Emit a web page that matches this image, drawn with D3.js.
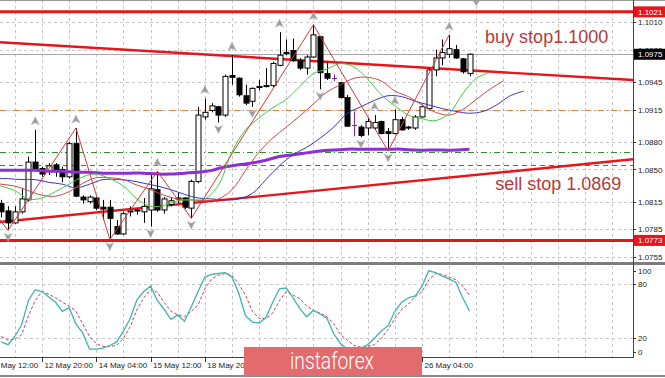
<!DOCTYPE html>
<html>
<head>
<meta charset="utf-8">
<title>EURUSD H4</title>
<script src="https://cdn.jsdelivr.net/npm/d3@7"></script>
<style>
  html, body { margin: 0; padding: 0; background: #ffffff; }
  svg { display: block; font-family: "Liberation Sans", Arial, sans-serif; }
  .grid line { stroke: #c6c6c6; stroke-dasharray: 3,3; shape-rendering: crispEdges; }
  .axis text { font-size: 8px; fill: #1a1a1a; }
  .axis line { stroke: #333; shape-rendering: crispEdges; }
  .axis path { display: none; }
</style>
</head>
<body>
<svg id="chart" width="665" height="378"></svg>
<script>
// bar index 0 = 11 May 12:00 (H4 bars), first visible bar is 2
const firstBar = 2;
const open = [1.0813,1.0805,1.0792,1.0804,1.0817,1.0858,1.0851,1.0848,1.0855,1.0850,
  1.0842,1.0878,1.0820,1.0815,1.0819,1.0809,1.0809,1.0788,1.0780,1.0804,
  1.0805,1.0804,1.0806,1.0828,1.0806,1.0812,1.0818,1.0819,1.0808,1.0837,
  1.0907,1.0914,1.0918,1.0909,1.0952,1.0949,1.0930,1.0924,1.0939,1.0940,
  1.0941,1.0963,1.0976,1.0979,1.0968,1.0960,1.0972,1.0994,1.0954,1.0949,
  1.0944,1.0928,1.0898,1.0896,1.0895,1.0895,1.0902,1.0891,1.0889,1.0904,
  1.0895,1.0895,1.0907,1.0916,1.0958,1.0971,1.0975,1.0980,1.0970,1.0954];
const high = [1.0817,1.0810,1.0810,1.0830,1.0864,1.0893,1.0853,1.0857,1.0857,1.0853,
  1.0880,1.0895,1.0822,1.0822,1.0820,1.0817,1.0817,1.0795,1.0804,1.0810,
  1.0808,1.0819,1.0844,1.0848,1.0820,1.0819,1.0825,1.0820,1.0839,1.0918,
  1.0927,1.0922,1.0919,1.0953,1.0974,1.0950,1.0942,1.0939,1.0947,1.0960,
  1.0967,1.0999,1.0991,1.0992,1.0971,1.0974,1.1007,1.0995,1.0967,1.0953,
  1.0945,1.0931,1.0913,1.0898,1.0906,1.0909,1.0903,1.0895,1.0915,1.0907,
  1.0897,1.0909,1.0920,1.0960,1.0980,1.0991,1.0996,1.0985,1.0971,1.0976];
const low = [1.0798,1.0784,1.0791,1.0802,1.0815,1.0849,1.0842,1.0844,1.0842,1.0836,
  1.0840,1.0820,1.0813,1.0813,1.0806,1.0795,1.0774,1.0779,1.0779,1.0799,
  1.0801,1.0792,1.0788,1.0804,1.0802,1.0810,1.0813,1.0807,1.0797,1.0835,
  1.0904,1.0912,1.0901,1.0907,1.0942,1.0929,1.0920,1.0918,1.0936,1.0939,
  1.0939,1.0962,1.0974,1.0967,1.0958,1.0953,1.0971,1.0937,1.0947,1.0946,
  1.0927,1.0896,1.0886,1.0885,1.0887,1.0893,1.0888,1.0870,1.0888,1.0892,
  1.0893,1.0893,1.0906,1.0915,1.0951,1.0963,1.0971,1.0970,1.0954,1.0951];
const close = [1.0804,1.0792,1.0804,1.0818,1.0858,1.0850,1.0845,1.0854,1.0849,1.0842,
  1.0878,1.0821,1.0817,1.0820,1.0808,1.0807,1.0797,1.0780,1.0802,1.0805,
  1.0806,1.0810,1.0829,1.0806,1.0818,1.0816,1.0819,1.0809,1.0837,1.0909,
  1.0912,1.0919,1.0909,1.0951,1.0950,1.0931,1.0922,1.0938,1.0940,1.0941,
  1.0965,1.0974,1.0977,1.0968,1.0960,1.0972,1.0996,1.0955,1.0949,1.0949,
  1.0928,1.0897,1.0898,1.0887,1.0902,1.0901,1.0889,1.0889,1.0904,1.0893,
  1.0896,1.0907,1.0918,1.0958,1.0971,1.0977,1.0981,1.0971,1.0956,1.0975];

// alligator lines, read every second bar slot (they run past the last bar)
const lipsStart = 0;
const lips = [1.0839,1.0832,1.0827,1.0818,1.0819,1.0826,1.0834,1.0842,1.0845,1.0840,
  1.0832,1.0818,1.0810,1.0811,1.0816,1.0817,1.0818,1.0833,1.0869,1.0893,
  1.0906,1.0917,1.0926,1.0940,1.0954,1.0959,1.0965,1.0961,1.0948,1.0931,
  1.0919,1.0909,1.0905,1.0903,1.0911,1.0932,1.0949,1.0955];
const teethStart = 0;
const teeth = [1.0838,1.0834,1.0832,1.0827,1.0822,1.0821,1.0826,1.0835,1.0841,1.0841,
  1.0839,1.0833,1.0828,1.0822,1.0818,1.0817,1.0816,1.0818,1.0828,1.0849,
  1.0869,1.0884,1.0896,1.0908,1.0921,1.0934,1.0942,1.0949,1.0950,1.0946,
  1.0935,1.0929,1.0920,1.0912,1.0909,1.0915,1.0926,1.0937,1.0946];
const jawStart = 1;
const jaw = [1.0840,1.0840,1.0839,1.0839,1.0836,1.0834,1.0830,1.0834,1.0839,1.0839,
  1.0838,1.0835,1.0832,1.0828,1.0823,1.0819,1.0818,1.0817,1.0818,1.0824,
  1.0839,1.0854,1.0866,1.0874,1.0884,1.0896,1.0911,1.0918,1.0925,1.0930,
  1.0929,1.0924,1.0920,1.0916,1.0913,1.0911,1.0913,1.0920,1.0930,1.0935];
const slowStart = 1;
const slowMA = [1.0849,1.0849,1.0849,1.0849,1.0848,1.0848,1.0847,1.0847,1.0846,1.0846,
  1.0846,1.0846,1.0845,1.0845,1.0846,1.0847,1.0849,1.0853,1.0855,1.0857,
  1.0860,1.0864,1.0866,1.0868,1.0870,1.0871,1.0872,1.0872,1.0872,1.0872,
  1.0872,1.0871,1.0871,1.0871,1.0871,1.0872];

const zigzagBars = [0, 3, 13, 18, 25, 30, 48, 59, 68];
const zigzagPrices = [1.0812, 1.0784, 1.0895, 1.0774, 1.0848, 1.0797, 1.1007, 1.0870, 1.0996];
const fractalUp = [7, 13, 25, 32, 36, 43, 48, 57, 60, 68];
const fractalDown = [3, 18, 24, 30, 34, 39, 49, 55, 59];

const stochMain = [16,13,22,35,62,74,72,66,60,50,54,36,26,8,8,9,12,16,28,42,
  63,72,78,62,52,41,46,39,55,72,88,91,92,93,88,70,45,38,37,43,
  60,75,76,65,53,44,51,47,42,25,14,8,6,9,13,20,28,34,50,60,
  65,67,78,95,93,89,86,82,65,50];
const stochSignal = [22,18,19,24,45,62,72,69,65,60,56,50,36,22,14,11,11,12,20,33,
  52,65,74,71,60,50,46,44,50,57,75,86,90,92,90,80,68,50,42,42,
  48,62,72,68,64,56,51,48,44,36,24,18,12,10,11,13,20,30,42,52,
  58,66,72,85,92,91,88,85,78,68];

const priceTicks = [1.1010, 1.0980, 1.0945, 1.0915, 1.0880, 1.0850, 1.0815, 1.0785, 1.0755];
const stochTicks = [100, 80, 20, 0];
// labels under the logo (20, 21, 22 May) are not visible in the picture
const timeBars = [0, 8, 16, 24, 32, 64];
const timeLabels = ["11 May 12:00", "12 May 20:00", "14 May 04:00", "15 May 12:00", "18 May 20:00",
  "26 May 04:00"];

const redLevels = [1.1021, 1.0773];
const lastPrice = 1.0975;
const orangeLevel = 1.0915;
const greenLevels = [1.0869, 1.0855];
const upperTrend = [[1.8, 1.0988], [95.1, 1.0947]];
const lowerTrend = [[1.8, 1.0793], [95.1, 1.0861]];
const notes = [
  { text: "buy stop1.1000", bar: 73.3, price: 1.0987 },
  { text: "sell stop 1.0869", bar: 74.8, price: 1.0828 }
];

// ---- layout ----
const plotRight = 633;
const mainBottom = 262;
const stochTop = 266, stochBottom = 357;

const x = d3.scaleLinear().domain([8, 64]).range([42, 422]);
const y = d3.scaleLinear().domain([1.1010, 1.0755]).range([22, 257]);
const yS = d3.scaleLinear().domain([0, 100]).range([356.3, 266.3]);

const svg = d3.select("#chart");
const defs = svg.append("defs");
defs.append("clipPath").attr("id", "clipMain")
  .append("rect").attr("x", 0).attr("y", 0).attr("width", plotRight).attr("height", mainBottom);
defs.append("clipPath").attr("id", "clipStoch")
  .append("rect").attr("x", 0).attr("y", stochTop).attr("width", plotRight).attr("height", stochBottom - stochTop);

const gridBars = d3.range(4, 96, 4);

// grid, main panel
const gridMain = svg.append("g").attr("class", "grid");
gridMain.selectAll("line.v").data(gridBars).join("line").attr("class", "v")
  .attr("x1", d => Math.round(x(d)) + 0.5).attr("x2", d => Math.round(x(d)) + 0.5)
  .attr("y1", 0).attr("y2", mainBottom);
gridMain.selectAll("line.h").data(priceTicks).join("line").attr("class", "h")
  .attr("x1", 0).attr("x2", plotRight)
  .attr("y1", d => Math.round(y(d)) + 0.5).attr("y2", d => Math.round(y(d)) + 0.5);

// grid, stochastic panel
const gridStoch = svg.append("g").attr("class", "grid");
gridStoch.selectAll("line.v").data(gridBars).join("line").attr("class", "v")
  .attr("x1", d => Math.round(x(d)) + 0.5).attr("x2", d => Math.round(x(d)) + 0.5)
  .attr("y1", stochTop).attr("y2", stochBottom);
gridStoch.selectAll("line.h").data([80, 20]).join("line").attr("class", "h")
  .attr("x1", 0).attr("x2", plotRight)
  .attr("y1", d => Math.round(yS(d)) + 0.5).attr("y2", d => Math.round(yS(d)) + 0.5);

const main = svg.append("g").attr("clip-path", "url(#clipMain)");

// horizontal helper levels
main.append("line")
  .attr("x1", 0).attr("x2", plotRight)
  .attr("y1", Math.round(y(lastPrice)) + 0.5).attr("y2", Math.round(y(lastPrice)) + 0.5)
  .attr("stroke", "#a8a8a8").attr("stroke-width", 1);
main.append("line")
  .attr("x1", 0).attr("x2", plotRight)
  .attr("y1", Math.round(y(orangeLevel)) + 0.5).attr("y2", Math.round(y(orangeLevel)) + 0.5)
  .attr("stroke", "#e8843c").attr("stroke-dasharray", "6,3,1,3");
main.selectAll("line.green").data(greenLevels).join("line").attr("class", "green")
  .attr("x1", 0).attr("x2", plotRight)
  .attr("y1", d => Math.round(y(d)) + 0.5).attr("y2", d => Math.round(y(d)) + 0.5)
  .attr("stroke", "#2f8f2f")
  .attr("stroke-dasharray", (d, i) => i === 0 ? "6,3,1,3" : "5,4");

// trend lines
const trendLine = d3.line().x(d => x(d[0])).y(d => y(d[1]));
[upperTrend, lowerTrend].forEach(t => {
  main.append("path").attr("d", trendLine(t))
    .attr("fill", "none").attr("stroke", "#e8141a").attr("stroke-width", 2.4);
});

// candles
const bars = open.map((o, k) => ({
  i: k + firstBar, o: o, h: high[k], l: low[k], c: close[k]
}));
const candles = main.append("g");
bars.forEach(b => {
  const cx = Math.round(x(b.i)) + 0.5;
  const doji = b.o === b.c;
  const ink = doji ? "#8a1fb0" : "#000";
  candles.append("line")
    .attr("x1", cx).attr("x2", cx)
    .attr("y1", y(b.h)).attr("y2", y(b.l))
    .attr("stroke", ink).attr("stroke-width", 1);
  if (doji) {
    candles.append("line")
      .attr("x1", cx - 2.5).attr("x2", cx + 2.5)
      .attr("y1", Math.round(y(b.o)) + 0.5).attr("y2", Math.round(y(b.o)) + 0.5)
      .attr("stroke", ink);
    return;
  }
  const top = y(Math.max(b.o, b.c));
  const bot = y(Math.min(b.o, b.c));
  candles.append("rect")
    .attr("x", cx - 2.5).attr("y", top)
    .attr("width", 5).attr("height", Math.max(1, bot - top))
    .attr("fill", b.c > b.o ? "#fff" : "#000")
    .attr("stroke", "#000").attr("stroke-width", 1);
});

// alligator + slow average
const maLine = (start) => d3.line()
  .x((d, k) => x(start + k * 2))
  .y(d => y(d))
  .curve(d3.curveCatmullRom);
main.append("path").attr("d", maLine(slowStart)(slowMA))
  .attr("fill", "none").attr("stroke", "#8d2fd2").attr("stroke-width", 3);
main.append("path").attr("d", maLine(jawStart)(jaw))
  .attr("fill", "none").attr("stroke", "#3535c8").attr("stroke-width", 1);
main.append("path").attr("d", maLine(teethStart)(teeth))
  .attr("fill", "none").attr("stroke", "#d24545").attr("stroke-width", 1);
main.append("path").attr("d", maLine(lipsStart)(lips))
  .attr("fill", "none").attr("stroke", "#3ccf3c").attr("stroke-width", 1);

// zigzag
main.append("path")
  .attr("d", d3.line().x(d => x(d[0])).y(d => y(d[1]))(zigzagBars.map((b, k) => [b, zigzagPrices[k]])))
  .attr("fill", "none").attr("stroke", "#cf3a3a").attr("stroke-width", 1);

// horizontal red levels
main.selectAll("line.red").data(redLevels).join("line").attr("class", "red")
  .attr("x1", 0).attr("x2", plotRight)
  .attr("y1", d => y(d)).attr("y2", d => y(d))
  .attr("stroke", "#e8141a").attr("stroke-width", 3);

// fractal arrows
main.selectAll("path.fu").data(fractalUp).join("path").attr("class", "fu")
  .attr("transform", d => `translate(${x(d)},${y(high[d - firstBar]) - 9})`)
  .attr("d", "M0,-4L4,4L0,2L-4,4Z")
  .attr("fill", "#9c9c9c").attr("stroke", "#bdbdbd").attr("stroke-width", 0.6);
main.selectAll("path.fd").data(fractalDown).join("path").attr("class", "fd")
  .attr("transform", d => `translate(${x(d)},${y(low[d - firstBar]) + 7})`)
  .attr("d", "M0,4L4,-4L0,-2L-4,-4Z")
  .attr("fill", "#9c9c9c").attr("stroke", "#bdbdbd").attr("stroke-width", 0.6);

// chart shift marker
const shiftX = x(firstBar + open.length);
main.append("path")
  .attr("d", `M${shiftX - 4},0L${shiftX + 4},0L${shiftX},6Z`)
  .attr("fill", "#a4a4a4");

// annotations
main.selectAll("text.note").data(notes).join("text").attr("class", "note")
  .attr("x", d => x(d.bar)).attr("y", d => y(d.price))
  .attr("font-size", 18).attr("fill", "#b43a3a")
  .text(d => d.text);

// stochastic
const stoch = svg.append("g").attr("clip-path", "url(#clipStoch)");
const stochLine = d3.line().x((d, k) => x(k + firstBar)).y(d => yS(d));
stoch.append("path").attr("d", stochLine(stochSignal))
  .attr("fill", "none").attr("stroke", "#d23a55").attr("stroke-width", 1)
  .attr("stroke-dasharray", "3,2");
stoch.append("path").attr("d", stochLine(stochMain))
  .attr("fill", "none").attr("stroke", "#3db5ad").attr("stroke-width", 1.3);

// frames
svg.append("rect").attr("x", 0).attr("y", 0).attr("width", 665).attr("height", 1).attr("fill", "#9a9a9a");
svg.append("rect").attr("x", 0).attr("y", mainBottom).attr("width", 665).attr("height", 3).attr("fill", "#7d7d7d");
svg.append("line").attr("x1", 0).attr("x2", plotRight)
  .attr("y1", stochBottom + 0.5).attr("y2", stochBottom + 0.5).attr("stroke", "#444");
svg.append("line").attr("x1", plotRight + 0.5).attr("x2", plotRight + 0.5)
  .attr("y1", 0).attr("y2", stochBottom + 1).attr("stroke", "#444");
svg.append("rect").attr("x", 0).attr("y", 375).attr("width", 665).attr("height", 2).attr("fill", "#8a8a8a");

// price axis
svg.append("g").attr("class", "axis")
  .attr("transform", `translate(${plotRight},0)`)
  .call(d3.axisRight(y).tickValues(priceTicks).tickSize(3).tickPadding(2).tickFormat(d3.format(".4f")));

// price boxes
const boxes = [
  { price: redLevels[0], fill: "#e8141a" },
  { price: lastPrice, fill: "#000" },
  { price: redLevels[1], fill: "#e8141a" }
];
const boxG = svg.append("g");
boxes.forEach(b => {
  boxG.append("rect")
    .attr("x", plotRight + 1).attr("y", y(b.price) - 5.5)
    .attr("width", 665 - plotRight - 1).attr("height", 11)
    .attr("fill", b.fill);
  boxG.append("text")
    .attr("x", plotRight + 5).attr("y", y(b.price))
    .attr("dy", "0.35em").attr("font-size", 8).attr("fill", "#fff")
    .text(d3.format(".4f")(b.price));
});

// stochastic axis
const sAxis = svg.append("g").attr("class", "axis");
sAxis.selectAll("text").data(stochTicks).join("text")
  .attr("x", plotRight + 5)
  .attr("y", d => Math.min(352, Math.max(271, yS(d))))
  .attr("dy", "0.35em")
  .text(d => d);
sAxis.selectAll("line").data(stochTicks).join("line")
  .attr("x1", plotRight).attr("x2", plotRight + 3)
  .attr("y1", d => Math.round(Math.min(352, Math.max(271, yS(d)))) + 0.5)
  .attr("y2", d => Math.round(Math.min(352, Math.max(271, yS(d)))) + 0.5);

// time axis
const tAxis = svg.append("g").attr("class", "axis")
  .attr("transform", `translate(0,${stochBottom})`)
  .call(d3.axisBottom(x).tickValues(timeBars).tickSize(5).tickFormat((d, k) => timeLabels[k]));
tAxis.selectAll("text").attr("text-anchor", "start").attr("x", 2).attr("y", 5);

// logo
const logo = svg.append("g");
logo.append("rect").attr("x", 244).attr("y", 347).attr("width", 178).attr("height", 29).attr("fill", "#e36a6d");
logo.append("text").attr("x", 290).attr("y", 369)
  .attr("font-family", "Roboto, 'Open Sans', sans-serif").attr("font-weight", 300)
  .attr("font-size", 23).attr("fill", "#fff")
  .attr("textLength", 84).attr("lengthAdjust", "spacingAndGlyphs")
  .text("instaforex");
</script>
</body>
</html>
